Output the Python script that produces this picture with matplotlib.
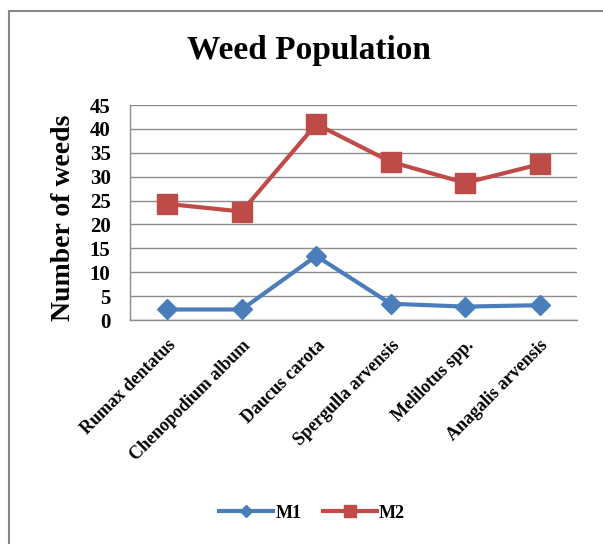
import matplotlib
matplotlib.use("Agg")
import matplotlib.pyplot as plt
from matplotlib.patches import Rectangle
from matplotlib.lines import Line2D

species = ["Rumax dentatus", "Chenopodium album", "Daucus carota",
           "Spergulla arvensis", "Melilotus spp.", "Anagalis arvensis"]
m1 = [2.2, 2.2, 13.4, 3.4, 2.8, 3.1]
m2 = [24.3, 22.7, 41.0, 33.1, 28.7, 32.6]
y_ticks = [0, 5, 10, 15, 20, 25, 30, 35, 40, 45]

BLUE = "#4A7EBB"
RED = "#BE4B48"
GRID = "#8C8C8C"
FONT = "Liberation Serif"

W, H = 603, 544
fig = plt.figure(figsize=(W / 100, H / 100), dpi=100)

# outer chart frame
fig.patches.append(Rectangle((9 / W, -0.2), 1.5, 1 - 11 / H + 0.2,
                             transform=fig.transFigure, fill=False,
                             edgecolor="#888888", linewidth=1.5))

ax = fig.add_axes([130 / W, 1 - 320 / H, 447 / W, 215 / H])
x = list(range(len(species)))

ax.plot(x, m1, color=BLUE, lw=3, marker="D", markersize=10,
        markerfacecolor=BLUE, markeredgecolor=BLUE, label="M1", zorder=3)
ax.plot(x, m2, color=RED, lw=3, marker="s", markersize=15,
        markerfacecolor=RED, markeredgecolor=RED, label="M2", zorder=3)

ax.set_xlim(-0.5, len(species) - 0.5)
ax.set_ylim(0, 45)
ax.set_yticks(y_ticks)
ax.set_yticklabels([str(v) for v in y_ticks], fontfamily=FONT,
                   fontweight="bold", fontsize=15)
ax.set_xticks(x)
ax.set_xticklabels(species, fontfamily=FONT, fontweight="bold", fontsize=13,
                   rotation=45, ha="right", va="top", rotation_mode="anchor")
ax.tick_params(axis="y", length=0, pad=14)
ax.tick_params(axis="x", length=0, pad=12)

ax.grid(axis="y", color=GRID, lw=1)
ax.set_axisbelow(True)
for side in ("top", "right"):
    ax.spines[side].set_visible(False)
for side in ("left", "bottom"):
    ax.spines[side].set_color(GRID)
    ax.spines[side].set_linewidth(1)

fig.text(309 / W, 1 - 51 / H, "Weed Population", fontfamily=FONT,
         fontweight="bold", fontsize=24, ha="center", va="center")
fig.text(63 / W, 1 - 218 / H, "Number of weeds", fontfamily=FONT,
         fontweight="bold", fontsize=20, rotation=90, ha="center", va="center")

handles = [Line2D([], [], color=BLUE, lw=3, marker="D", markersize=6),
           Line2D([], [], color=RED, lw=3, marker="s", markersize=8)]
fig.legend(handles, ["M1", "M2"], loc="center", bbox_to_anchor=(312 / W, 1 - 513 / H),
           ncol=2, frameon=False, handlelength=3.0, handletextpad=0.1,
           columnspacing=1.2, prop={"family": FONT, "weight": "bold", "size": 13})

fig.savefig("out.png", dpi=100)
